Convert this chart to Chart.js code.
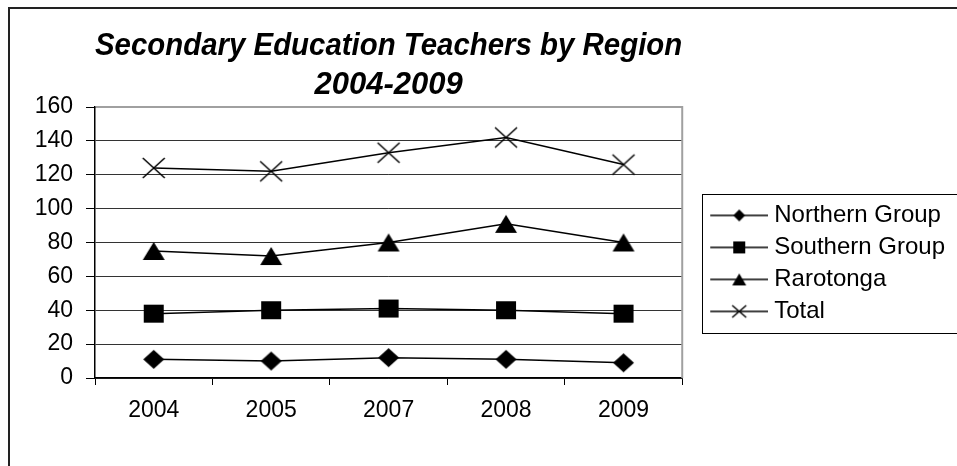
<!DOCTYPE html>
<html><head><meta charset="utf-8">
<script src="https://cdn.jsdelivr.net/npm/chart.js@4/dist/chart.umd.min.js"></script>
<style>html,body{margin:0;padding:0;background:#fff;}#wrap{position:relative;width:957px;height:466px;}</style>
</head><body><div id="wrap"><canvas id="c" width="957" height="466"></canvas></div>
<script>
const years = ['2004', '2005', '2007', '2008', '2009'];
const northernGroup = [11, 10, 12, 11, 9];
const southernGroup = [38, 40, 41, 40, 38];
const rarotonga = [75, 72, 80, 91, 80];
const total = [124, 122, 133, 142, 126];
const seriesNames = ['Northern Group', 'Southern Group', 'Rarotonga', 'Total'];
const yMin = 0, yMax = 160, yStep = 20;
const titleLines = ['Secondary Education Teachers by Region', '2004-2009'];

const FONT = "Arial, 'Liberation Sans', sans-serif";
const markerTypes = ['diamond', 'square', 'triangle', 'cross'];
const markerSizes = [[21, 19], [20, 18], [22, 18], [22, 20]];
const legendMarkerSizes = [[12, 12], [12, 12], [14, 12], [14, 12]];

function drawMarker(ctx, type, cx, cy, w, h) {
  ctx.fillStyle = '#000'; ctx.strokeStyle = '#000';
  ctx.beginPath();
  if (type === 'diamond') {
    ctx.moveTo(cx, cy - h / 2); ctx.lineTo(cx + w / 2, cy); ctx.lineTo(cx, cy + h / 2); ctx.lineTo(cx - w / 2, cy); ctx.closePath(); ctx.fill();
  } else if (type === 'square') {
    ctx.rect(cx - w / 2, cy - h / 2, w, h); ctx.fill();
  } else if (type === 'triangle') {
    ctx.moveTo(cx, cy - h / 2); ctx.lineTo(cx + w / 2, cy + h / 2); ctx.lineTo(cx - w / 2, cy + h / 2); ctx.closePath(); ctx.fill();
  } else {
    ctx.lineWidth = 1.5;
    ctx.moveTo(cx - w / 2, cy - h / 2); ctx.lineTo(cx + w / 2, cy + h / 2);
    ctx.moveTo(cx + w / 2, cy - h / 2); ctx.lineTo(cx - w / 2, cy + h / 2); ctx.stroke();
  }
}
function markerCanvas(i) {
  const [w, h] = markerSizes[i];
  const c = document.createElement('canvas'); c.width = w + 4; c.height = h + 4;
  drawMarker(c.getContext('2d'), markerTypes[i], c.width / 2, c.height / 2, w, h);
  return c;
}
function legendCanvas(i) {
  const [w, h] = legendMarkerSizes[i];
  const c = document.createElement('canvas'); c.width = 84; c.height = 24;
  const ctx = c.getContext('2d');
  ctx.strokeStyle = '#000'; ctx.lineWidth = 1.5;
  ctx.beginPath(); ctx.moveTo(26, 12); ctx.lineTo(84, 12); ctx.stroke();
  drawMarker(ctx, markerTypes[i], 55, 12, w, h);
  return c;
}

const seriesValues = [northernGroup, southernGroup, rarotonga, total];
const datasets = seriesNames.map((name, i) => ({
  label: name,
  data: seriesValues[i],
  borderColor: '#000',
  backgroundColor: '#000',
  borderWidth: 1.5,
  pointStyle: markerCanvas(i),
  pointRadius: 10,
  tension: 0,
  fill: false,
  clip: false
}));

const framePlugin = {
  id: 'frames',
  beforeDraw(chart) {
    const ctx = chart.ctx;
    ctx.save();
    ctx.strokeStyle = '#222'; ctx.lineWidth = 2;
    ctx.strokeRect(9, 8, chart.width + 20, chart.height + 20);
    ctx.restore();
  },
  beforeDatasetsDraw(chart) {
    const {left, top, right, bottom} = chart.chartArea;
    const ctx = chart.ctx;
    ctx.save();
    ctx.strokeStyle = '#a0a0a0'; ctx.lineWidth = 2;
    ctx.beginPath(); ctx.moveTo(left + 1, top); ctx.lineTo(right, top); ctx.lineTo(right, bottom); ctx.stroke();
    ctx.restore();
  },
  afterDraw(chart) {
    const hb = chart.legend.legendHitBoxes;
    if (!hb || !hb.length) return;
    const ctx = chart.ctx;
    const x0 = Math.round(hb[0].left + 12) + 0.5;
    const y0 = Math.round(hb[0].top - 9) + 0.5;
    const last = hb[hb.length - 1];
    const y1 = Math.round(last.top + last.height + 10) + 0.5;
    ctx.save();
    ctx.strokeStyle = '#000'; ctx.lineWidth = 1;
    ctx.strokeRect(x0, y0, chart.width - x0 + 20, y1 - y0);
    ctx.restore();
  }
};

new Chart(document.getElementById('c'), {
  type: 'line',
  data: { labels: years, datasets },
  plugins: [framePlugin],
  options: {
    responsive: false,
    devicePixelRatio: 1,
    animation: false,
    layout: { padding: { top: 0, left: 0, right: 2, bottom: 0 } },
    plugins: {
      tooltip: { enabled: false },
      title: {
        display: true,
        text: titleLines,
        fullSize: false,
        color: '#000',
        font: { family: FONT, size: 31, weight: 'bold', style: 'italic', lineHeight: 1.25 },
        padding: { top: 27, bottom: 2.5 }
      },
      legend: {
        position: 'right',
        align: 'start',
        maxWidth: 320,
        title: { display: true, text: '', font: { size: 12, lineHeight: 1.2 }, padding: { top: 181, bottom: 0 } },
        labels: {
          usePointStyle: true,
          pointStyleWidth: 72,
          padding: 8,
          color: '#000',
          font: { family: FONT, size: 24 },
          generateLabels(chart) {
            return chart.data.datasets.map((ds, i) => ({
              text: ds.label,
              pointStyle: legendCanvas(i),
              fillStyle: '#000',
              strokeStyle: '#000',
              lineWidth: 0,
              hidden: false,
              datasetIndex: i,
              fontColor: '#000'
            }));
          }
        }
      }
    },
    scales: {
      x: {
        type: 'category',
        offset: true,
        afterFit(scale) { scale.height = 88; },
        grid: { display: true, drawOnChartArea: false, offset: true, tickLength: 7, color: '#000', tickColor: '#000' },
        border: { color: '#000', width: 1.5 },
        ticks: { color: '#000', font: { family: FONT, size: 23 }, padding: 12, maxRotation: 0 }
      },
      y: {
        min: yMin, max: yMax,
        afterFit(scale) { scale.width = 95; },
        grid: { color: '#333', lineWidth: 1, tickColor: '#000', tickLength: 9 },
        border: { color: '#000', width: 1.5 },
        ticks: { stepSize: yStep, color: '#000', font: { family: FONT, size: 23 }, padding: 13 }
      }
    }
  }
});
</script></body></html>
